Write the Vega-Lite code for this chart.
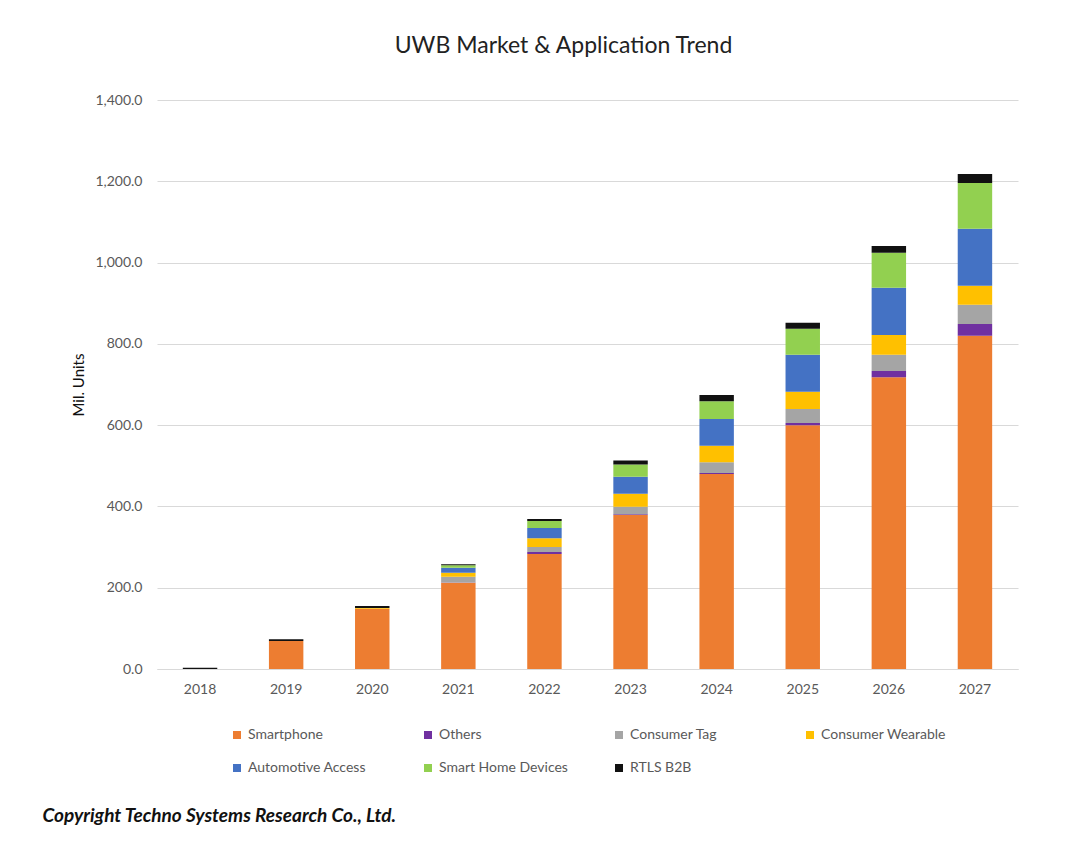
{
  "$schema": "https://vega.github.io/schema/vega-lite/v6.json",
  "width": 861,
  "height": 569,
  "autosize": "none",
  "padding": {"left": 157, "top": 100, "right": 62, "bottom": 183},
  "background": "white",
  "title": {
    "text": "UWB Market & Application Trend",
    "font": "Lato",
    "fontSize": 23,
    "fontWeight": "normal",
    "color": "#222222",
    "offset": 35,
    "dx": -24
  },
  "data": {
    "values": [
      {"year": "2018", "segment": "RTLS B2B", "units": 3},
      {"year": "2019", "segment": "Smartphone", "units": 69},
      {"year": "2019", "segment": "RTLS B2B", "units": 4},
      {"year": "2020", "segment": "Smartphone", "units": 148},
      {"year": "2020", "segment": "Consumer Wearable", "units": 2},
      {"year": "2020", "segment": "RTLS B2B", "units": 5},
      {"year": "2021", "segment": "Smartphone", "units": 212},
      {"year": "2021", "segment": "Others", "units": 1},
      {"year": "2021", "segment": "Consumer Tag", "units": 14},
      {"year": "2021", "segment": "Consumer Wearable", "units": 10},
      {"year": "2021", "segment": "Automotive Access", "units": 12},
      {"year": "2021", "segment": "Smart Home Devices", "units": 6},
      {"year": "2021", "segment": "RTLS B2B", "units": 3},
      {"year": "2022", "segment": "Smartphone", "units": 283},
      {"year": "2022", "segment": "Others", "units": 5},
      {"year": "2022", "segment": "Consumer Tag", "units": 12},
      {"year": "2022", "segment": "Consumer Wearable", "units": 22},
      {"year": "2022", "segment": "Automotive Access", "units": 25},
      {"year": "2022", "segment": "Smart Home Devices", "units": 17},
      {"year": "2022", "segment": "RTLS B2B", "units": 5},
      {"year": "2023", "segment": "Smartphone", "units": 379},
      {"year": "2023", "segment": "Others", "units": 2},
      {"year": "2023", "segment": "Consumer Tag", "units": 18},
      {"year": "2023", "segment": "Consumer Wearable", "units": 32},
      {"year": "2023", "segment": "Automotive Access", "units": 42},
      {"year": "2023", "segment": "Smart Home Devices", "units": 30},
      {"year": "2023", "segment": "RTLS B2B", "units": 10},
      {"year": "2024", "segment": "Smartphone", "units": 480},
      {"year": "2024", "segment": "Others", "units": 2},
      {"year": "2024", "segment": "Consumer Tag", "units": 27},
      {"year": "2024", "segment": "Consumer Wearable", "units": 40},
      {"year": "2024", "segment": "Automotive Access", "units": 66},
      {"year": "2024", "segment": "Smart Home Devices", "units": 44},
      {"year": "2024", "segment": "RTLS B2B", "units": 15},
      {"year": "2025", "segment": "Smartphone", "units": 600},
      {"year": "2025", "segment": "Others", "units": 5},
      {"year": "2025", "segment": "Consumer Tag", "units": 35},
      {"year": "2025", "segment": "Consumer Wearable", "units": 42},
      {"year": "2025", "segment": "Automotive Access", "units": 91},
      {"year": "2025", "segment": "Smart Home Devices", "units": 64},
      {"year": "2025", "segment": "RTLS B2B", "units": 15},
      {"year": "2026", "segment": "Smartphone", "units": 718},
      {"year": "2026", "segment": "Others", "units": 15},
      {"year": "2026", "segment": "Consumer Tag", "units": 40},
      {"year": "2026", "segment": "Consumer Wearable", "units": 49},
      {"year": "2026", "segment": "Automotive Access", "units": 116},
      {"year": "2026", "segment": "Smart Home Devices", "units": 86},
      {"year": "2026", "segment": "RTLS B2B", "units": 17},
      {"year": "2027", "segment": "Smartphone", "units": 820},
      {"year": "2027", "segment": "Others", "units": 29},
      {"year": "2027", "segment": "Consumer Tag", "units": 47},
      {"year": "2027", "segment": "Consumer Wearable", "units": 47},
      {"year": "2027", "segment": "Automotive Access", "units": 140},
      {"year": "2027", "segment": "Smart Home Devices", "units": 113},
      {"year": "2027", "segment": "RTLS B2B", "units": 22}
    ]
  },
  "transform": [
    {
      "calculate": "indexof(['Smartphone', 'Others', 'Consumer Tag', 'Consumer Wearable', 'Automotive Access', 'Smart Home Devices', 'RTLS B2B'], datum.segment)",
      "as": "stackOrder"
    }
  ],
  "mark": {"type": "bar"},
  "encoding": {
    "x": {
      "field": "year",
      "type": "ordinal",
      "scale": {"paddingInner": 0.6, "paddingOuter": 0.3},
      "axis": {
        "title": "Copyright Techno Systems Research Co., Ltd.",
        "titleFont": "Lato",
        "titleFontSize": 19,
        "titleFontWeight": "bold",
        "titleFontStyle": "italic",
        "titleColor": "#111111",
        "titleAnchor": "start",
        "titleAlign": "left",
        "titleBaseline": "middle",
        "titleX": -115,
        "titleY": 146,
        "labelAngle": 0,
        "labelFont": "Lato",
        "labelFontSize": 14,
        "labelColor": "#595959",
        "labelPadding": 13,
        "ticks": false,
        "domainColor": "#d9d9d9",
        "grid": false
      }
    },
    "y": {
      "field": "units",
      "type": "quantitative",
      "stack": "zero",
      "scale": {"domain": [0, 1400], "nice": false},
      "axis": {
        "title": "Mil. Units",
        "titleFont": "Lato",
        "titleFontSize": 15,
        "titleFontWeight": "normal",
        "titleColor": "#111111",
        "titleX": -79,
        "titleBaseline": "middle",
        "values": [0, 200, 400, 600, 800, 1000, 1200, 1400],
        "format": ",.1f",
        "labelFont": "Lato",
        "labelFontSize": 14,
        "labelColor": "#595959",
        "labelPadding": 15,
        "ticks": false,
        "domain": false,
        "gridColor": "#d9d9d9",
        "gridWidth": 1
      }
    },
    "order": {"field": "stackOrder", "sort": "ascending"},
    "color": {
      "field": "segment",
      "type": "nominal",
      "scale": {
        "domain": ["Smartphone", "Others", "Consumer Tag", "Consumer Wearable", "Automotive Access", "Smart Home Devices", "RTLS B2B"],
        "range": ["#ED7D31", "#7030A0", "#A5A5A5", "#FFC000", "#4472C4", "#92D050", "#111111"]
      },
      "legend": {
        "title": null,
        "orient": "none",
        "legendX": 73,
        "legendY": 628,
        "direction": "horizontal",
        "columns": 4,
        "gridAlign": "all",
        "columnPadding": 44,
        "rowPadding": 19,
        "padding": 0,
        "symbolType": "square",
        "symbolSize": 64,
        "symbolStrokeWidth": 0,
        "labelOffset": 4,
        "labelFont": "Lato",
        "labelFontSize": 14,
        "labelColor": "#595959"
      }
    }
  },
  "config": {
    "view": {"stroke": null}
  }
}
